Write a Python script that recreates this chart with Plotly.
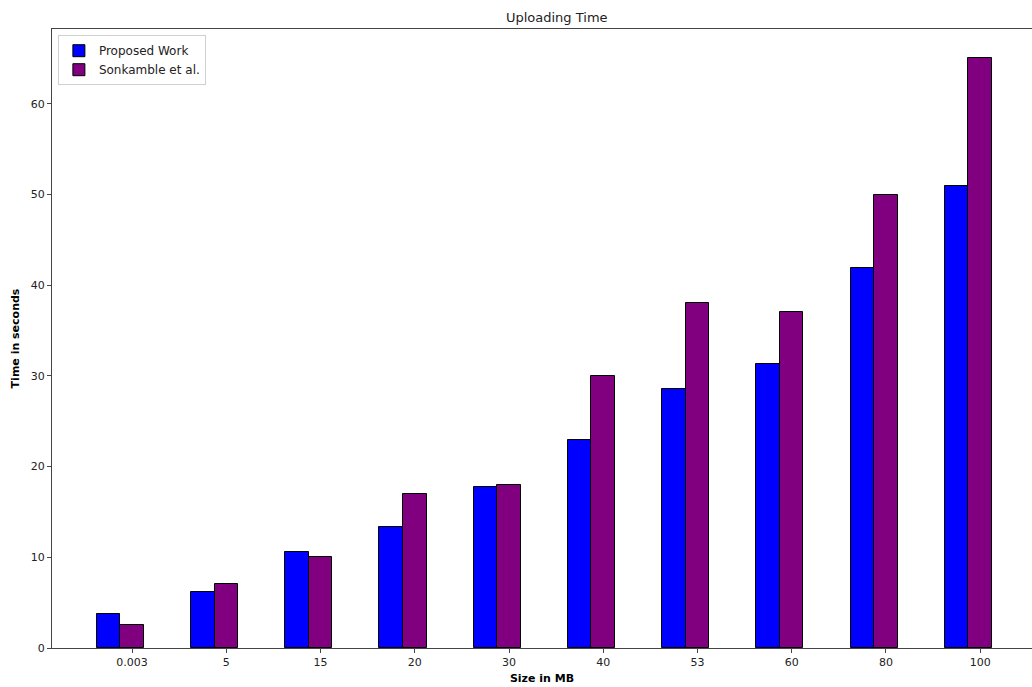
import plotly.graph_objects as go

sizes = ["0.003", "5", "15", "20", "30", "40", "53", "60", "80", "100"]
proposed = [3.8, 6.2, 10.55, 13.3, 17.7, 22.95, 28.6, 31.3, 41.95, 50.95]
sonkamble = [2.5, 7.05, 10.0, 17.0, 18.0, 30.0, 38.0, 37.0, 50.0, 65.0]

x = list(range(len(sizes)))
font = "DejaVu Sans"

fig = go.Figure()
fig.add_trace(go.Bar(
    x=x, y=proposed, name="Proposed Work", width=0.25, offset=-0.375,
    marker=dict(color="#0000ff", line=dict(color="black", width=1)),
))
fig.add_trace(go.Bar(
    x=x, y=sonkamble, name="Sonkamble et al.", width=0.25, offset=-0.125,
    marker=dict(color="#800080", line=dict(color="black", width=1)),
))

fig.update_layout(
    width=1032, height=687,
    margin=dict(l=52, r=0, t=29, b=39),
    paper_bgcolor="white", plot_bgcolor="white",
    font=dict(family=font, size=11, color="#222"),
    title=dict(text="Uploading Time", x=0.5395, xanchor="center", y=0.975, yanchor="middle",
               font=dict(family=font, size=13, color="#222")),
    barmode="overlay",
    bargap=0,
    showlegend=True,
    legend=dict(x=0.006, y=0.99, xanchor="left", yanchor="top",
                bgcolor="white", bordercolor="#d0d0d0", borderwidth=1,
                font=dict(family=font, size=12, color="#222"),
                tracegroupgap=0, itemwidth=30),
    xaxis=dict(
        range=[-0.85, 9.55], tickmode="array", tickvals=x, ticktext=sizes,
        showline=True, linecolor="#444", linewidth=1, mirror=True,
        ticks="outside", ticklen=4, tickcolor="#444", showgrid=False, zeroline=False,
        title=dict(text="<b>Size in MB</b>", font=dict(family=font, size=11, color="black"), standoff=6),
    ),
    yaxis=dict(
        range=[0, 68.25], tickmode="array", tickvals=[0, 10, 20, 30, 40, 50, 60],
        showline=True, linecolor="#444", linewidth=1, mirror=False,
        ticks="outside", ticklen=4, tickcolor="#444", showgrid=False, zeroline=False,
        title=dict(text="<b>Time in seconds</b>", font=dict(family=font, size=11, color="black"), standoff=8),
    ),
)

fig.write_html("out.html")
